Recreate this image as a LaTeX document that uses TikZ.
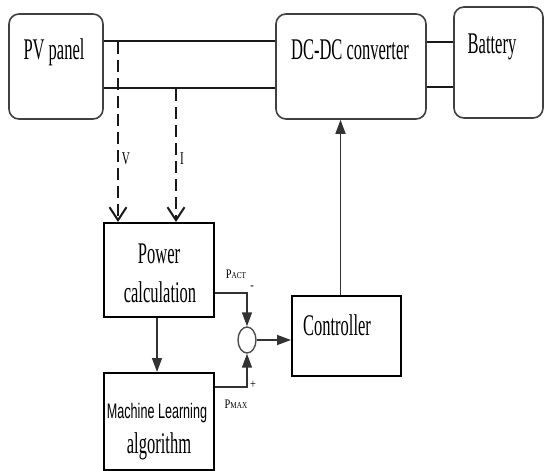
\documentclass[tikz,border=0pt]{standalone}
\usepackage{fontspec}
\usetikzlibrary{arrows.meta,shapes.geometric}
\newfontfamily\trm[FakeStretch=0.55]{Liberation Serif}
\newfontfamily\trmb[FakeStretch=0.62]{Liberation Serif}
\newfontfamily\trmc[FakeStretch=0.8]{Liberation Serif}
\newfontfamily\tsans[FakeStretch=0.6]{Liberation Sans}
\begin{document}
\begin{tikzpicture}[x=1pt,y=-1pt,
  rbox/.style={draw=black!75, line width=1.6pt, rounded corners=10pt, rectangle, inner sep=0},
  sbox/.style={draw=black, line width=2pt, rectangle, inner sep=0},
  big/.style={font=\trm\fontsize{30}{32}\selectfont, inner sep=0, anchor=base, text=black},
  mid/.style={font=\trmb\fontsize{18}{20}\selectfont, inner sep=0, anchor=base, text=black},
  small/.style={font=\trmc\fontsize{13}{14}\selectfont, inner sep=0, anchor=base, text=black},
  wire/.style={line width=1.6pt, black!90},
  sig/.style={line width=1.5pt, black!80, -{Triangle[length=14pt,width=10pt]}},
  meas/.style={line width=1.5pt, black!90, dash pattern=on 12pt off 6pt, -{Straight Barb[length=13pt,width=17pt,line width=2pt]}}
]
\useasboundingbox (0,0) rectangle (544,471);
% boxes
\node[rbox, minimum width=94pt, minimum height=105pt] (pv) at (56,66.5) {};
\node[rbox, minimum width=150pt, minimum height=105pt] (dc) at (351,66.5) {};
\node[rbox, minimum width=89pt, minimum height=111pt] (bat) at (498.5,62.5) {};
\node[sbox, minimum width=110pt, minimum height=94pt] (pw) at (159,270) {};
\node[sbox, minimum width=110pt, minimum height=97pt] (ml) at (159,421.5) {};
\node[sbox, minimum width=109pt, minimum height=80pt] (ctl) at (346.5,336) {};
\node[draw=black!70, line width=1.4pt, ellipse, inner sep=0, minimum width=18pt, minimum height=26pt] (sum) at (247,340) {};
% texts
\node[big] (tpv) at (54,59) {PV panel};
\node[big] (tdc) at (350,59) {DC-DC converter};
\node[big] (tbat) at (492,53) {Battery};
\node[big] (tpw1) at (159,263) {Power};
\node[big] (tpw2) at (160,302) {calculation};
\node[inner sep=0, anchor=base, font=\tsans\fontsize{21}{23}\selectfont, text=black] (tml1) at (157,418) {Machine Learning};
\node[big] (tml2) at (159,453) {algorithm};
\node[big] (tctl) at (337,335) {Controller};
\node[mid] (tv) at (126,164) {V};
\node[mid] (ti) at (182,164) {I};
\node[small] (tact) at (236,278) {P{\fontsize{9}{10}\selectfont ACT}};
\node[small] (tmax) at (236,408) {P{\fontsize{9}{10}\selectfont MAX}};
\node[small] (tminus) at (252,289) {-};
\node[small] (tplus) at (253,388) {+};
% wires
\draw[wire] ([yshift=-28pt]pv.north east) -- ([yshift=-28pt]dc.north west);
\draw[wire] ([yshift=-75pt]pv.north east) -- ([yshift=-75pt]dc.north west);
\draw[wire] ([yshift=-29pt]dc.north east) -- ([yshift=-29pt]dc.north east -| bat.west);
\draw[wire] ([yshift=-74pt]dc.north east) -- ([yshift=-74pt]dc.north east -| bat.west);
% measurement taps
\coordinate (vtap) at (118,42);
\coordinate (itap) at (176,89);
\draw[meas] (vtap) -- (vtap |- pw.north);
\draw[meas] (itap) -- (itap |- pw.north);
% signals
\draw[sig] ([xshift=-2pt]pw.south) -- ([xshift=-2pt]ml.north);
\draw[sig] ([yshift=-23pt]pw.east) -| (sum.north);
\draw[sig] ([yshift=34.5pt]ml.east) -| (sum.south);
\draw[sig] (sum.east) -- (sum.east -| ctl.west);
\draw[sig] ([xshift=-6pt]ctl.north) -- ([xshift=-6pt]ctl.north |- dc.south);
\end{tikzpicture}
\end{document}
